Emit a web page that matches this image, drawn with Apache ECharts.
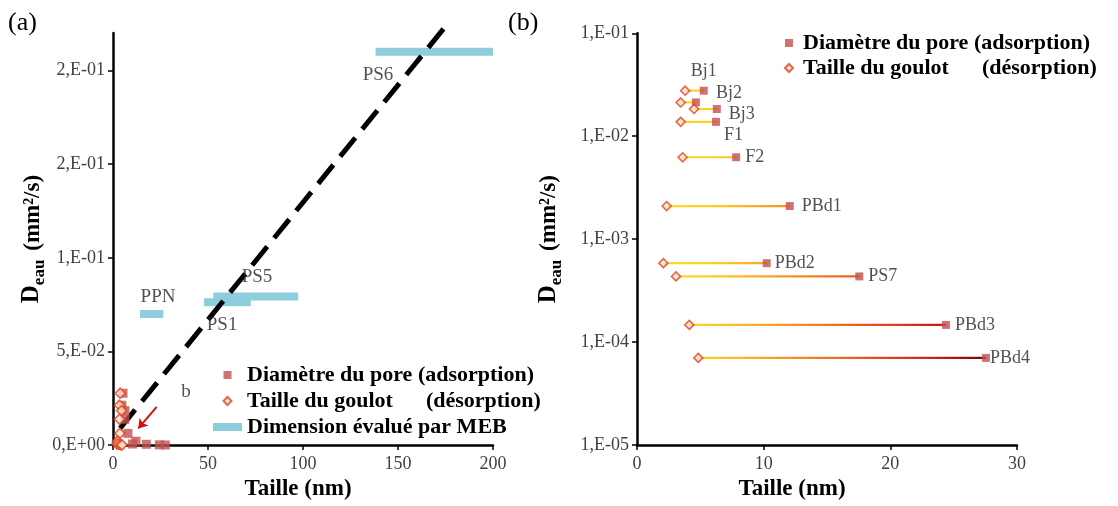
<!DOCTYPE html>
<html><head><meta charset="utf-8">
<script src="https://cdn.jsdelivr.net/npm/echarts@6/dist/echarts.min.js"></script>
<style>html,body{margin:0;padding:0;background:#fff}#c{width:1118px;height:506px}</style>
</head><body><div id="c"></div>
<script>
// ---- data ----
const samples = ['Bj1','Bj2','Bj3','F1','F2','PBd1','PBd2','PS7','PBd3','PBd4'];
const poreDiameter = [5.27,4.65,6.3,6.24,7.83,12.06,10.24,17.55,24.39,27.55];
const neckSize = [3.8,3.45,4.5,3.45,3.6,2.34,2.08,3.08,4.13,4.84];
const dWater = [0.0277,0.0213,0.0184,0.0138,0.00625,0.0021,0.000585,0.000435,0.000147,0.0000703];
const mebNames = ['PPN','PS1','PS5','PS6'];
const mebMin = [14.2,47.9,52.8,138.2];
const mebMax = [26.5,72.5,97.5,200];
const mebD = [0.070,0.0763,0.0793,0.210];
const trendX = [3.7,175.6];
const trendY = [0.0089,0.2243];
const arrowFrom = [23.0,0.0204];
const arrowTo = [13.3,0.0089];
const noteText = ['PPN','PS1','PS5','PS6','b'];
const noteX = [23.7,57.4,75.8,139.5,38.4];
const noteY = [0.0791,0.0639,0.0896,0.1978,0.0286];
const yValsA = [0,0.05,0.1,0.15,0.2];
const yTicksA = ['0,E+00','5,E-02','1,E-01','2,E-01','2,E-01'];
const yTicksB = ['1,E-05','1,E-04','1,E-03','1,E-02','1,E-01'];

// ---- styling ----
const SERIF = 'Liberation Serif';
const nPore = 'Diamètre du pore (adsorption)';
const nNeck = 'Taille du goulot      (désorption)';
const nMeb = 'Dimension évalué par MEB';
const SQ = 'path://M0,0L10,0L10,10L0,10Z';
const DI = 'path://M5,0L10,5L5,10L0,5Z';
const poreColor = '#C0504D';
const neckStyle = {color:'#FDE3CF', borderColor:'#E2401E', borderWidth:1.6};
const pal = [[0,[255,226,50]],[6,[255,208,30]],[10,[248,165,45]],[15,[240,118,38]],[20,[226,62,34]],[24,[200,24,24]],[28,[90,5,5]]];
function palAt(x){
  if (x<=pal[0][0]) return pal[0][1];
  for (let i=1;i<pal.length;i++){
    if (x<=pal[i][0]){
      const t=(x-pal[i-1][0])/(pal[i][0]-pal[i-1][0]);
      return pal[i-1][1].map((c,k)=>Math.round(c+(pal[i][1][k]-c)*t));
    }
  }
  return pal[pal.length-1][1];
}
function grad(a,b){
  const stops=[];
  for(let i=0;i<=6;i++){const t=i/6;const c=palAt(a+(b-a)*t);stops.push({offset:t,color:'rgb('+c.join(',')+')'});}
  return {type:'linear',x:0,y:0,x2:1,y2:0,colorStops:stops};
}
const labelCfg = {
  Bj1:{position:'top',distance:6},
  Bj2:{position:'right',distance:4,offset:[12,-9]},
  Bj3:{position:'right',distance:8,offset:[0,5]},
  F1:{position:'right',distance:4,offset:[0,13]},
  F2:{position:'right',distance:5},
  PBd1:{position:'right',distance:8},
  PBd2:{position:'right',distance:4},
  PS7:{position:'right',distance:5},
  PBd3:{position:'right',distance:5},
  PBd4:{position:'right',distance:0}
};
const tickLbl = {color:'#404040',fontFamily:SERIF,fontSize:18};
const axLine = {lineStyle:{color:'#000',width:2.5}};
const axTick = {show:true,inside:false,length:5,lineStyle:{color:'#000',width:1.5}};
const yName = '{d|D}{s|eau}{sp|  }{u|(mm²/s)}';
const yRich = {
  d:{fontFamily:SERIF,fontWeight:'bold',fontSize:25,color:'#000',lineHeight:28,verticalAlign:'bottom'},
  s:{fontFamily:SERIF,fontWeight:'bold',fontSize:17,color:'#000',lineHeight:28,verticalAlign:'bottom',padding:[0,0,-4,0]},
  sp:{fontSize:16,lineHeight:28},
  u:{fontFamily:SERIF,fontWeight:'bold',fontSize:23,color:'#000',lineHeight:28,verticalAlign:'bottom'}
};

const series = [];
// panel a
mebNames.forEach((n,i)=>{
  series.push({name:nMeb,type:'line',xAxisIndex:0,yAxisIndex:0,symbol:'none',clip:false,
    data:[[mebMin[i],mebD[i]],[mebMax[i],mebD[i]]],
    lineStyle:{color:'#8ECDDC',width:8,cap:'butt'},itemStyle:{color:'#8ECDDC'},z:2});
});
series.push({type:'line',xAxisIndex:0,yAxisIndex:0,symbol:'none',clip:false,silent:true,
  data:trendX.map((x,i)=>[x,trendY[i]]),
  lineStyle:{color:'#000',width:5,type:[24,11],cap:'butt'},z:3});
series.push({name:nPore,type:'scatter',xAxisIndex:0,yAxisIndex:0,symbol:SQ,symbolSize:9,
  data:poreDiameter.map((x,i)=>[x,dWater[i]]),itemStyle:{color:poreColor},z:4});
series.push({name:nNeck,type:'scatter',xAxisIndex:0,yAxisIndex:0,symbol:DI,symbolSize:10,
  data:neckSize.map((x,i)=>[x,dWater[i]]),itemStyle:neckStyle,z:5});
series.push({type:'lines',coordinateSystem:'cartesian2d',xAxisIndex:0,yAxisIndex:0,silent:true,
  symbol:['none','arrow'],symbolSize:9,
  lineStyle:{color:'#D01010',width:2,opacity:1},
  data:[{coords:[arrowFrom,arrowTo]}],z:6});
series.push({type:'scatter',xAxisIndex:0,yAxisIndex:0,symbolSize:0,silent:true,
  data:noteText.map((t,i)=>({value:[noteX[i],noteY[i]],name:t})),
  label:{show:true,position:'inside',formatter:p=>p.name,color:'#262626',fontFamily:SERIF,fontSize:19},z:7});
// panel b
samples.forEach((n,i)=>{
  series.push({type:'line',xAxisIndex:1,yAxisIndex:1,symbol:'none',silent:true,
    data:[[neckSize[i],dWater[i]],[poreDiameter[i],dWater[i]]],
    lineStyle:{color:grad(neckSize[i],poreDiameter[i]),width:2.2},z:2});
});
series.push({name:nPore,type:'scatter',xAxisIndex:1,yAxisIndex:1,symbol:SQ,symbolSize:8,
  data:poreDiameter.map((x,i)=>({value:[x,dWater[i]],name:samples[i],
    label:Object.assign({show:true},labelCfg[samples[i]])})),
  label:{formatter:p=>p.name,color:'#262626',fontFamily:SERIF,fontSize:18},
  itemStyle:{color:poreColor},z:4});
series.push({name:nNeck,type:'scatter',xAxisIndex:1,yAxisIndex:1,symbol:DI,symbolSize:9,
  data:neckSize.map((x,i)=>[x,dWater[i]]),itemStyle:neckStyle,z:5});

const legendText = {fontFamily:SERIF,fontWeight:'bold',fontSize:22,color:'#000',lineHeight:22};
const option = {
  backgroundColor:'#fff',
  animation:false,
  graphic:[
    {type:'text',left:8,top:10,style:{text:'(a)',font:'26px Liberation Serif',fill:'#000'}},
    {type:'text',left:508,top:10,style:{text:'(b)',font:'26px Liberation Serif',fill:'#000'}}
  ],
  legend:[
    {orient:'vertical',left:213,top:364,padding:0,itemGap:4,itemWidth:29,itemHeight:8,
     data:[{name:nPore,icon:SQ},{name:nNeck,icon:DI},{name:nMeb,icon:'rect'}],textStyle:legendText},
    {orient:'vertical',left:784,top:32,padding:0,itemGap:3,itemWidth:18,itemHeight:8,
     data:[{name:nPore,icon:SQ},{name:nNeck,icon:DI}],textStyle:legendText}
  ],
  grid:[
    {left:113,top:33,width:380,height:413.7},
    {left:637,top:33.3,width:380,height:413.4}
  ],
  xAxis:[
    {type:'value',gridIndex:0,min:0,max:200,interval:50,axisLine:axLine,axisTick:axTick,splitLine:{show:false},
     axisLabel:Object.assign({margin:10},tickLbl),
     name:'Taille (nm)',nameLocation:'middle',nameGap:30,
     nameTextStyle:{fontFamily:SERIF,fontWeight:'bold',fontSize:23,color:'#000',padding:[0,10,0,0]}},
    {type:'value',gridIndex:1,min:0,max:30,interval:10,axisLine:axLine,axisTick:axTick,splitLine:{show:false},
     axisLabel:Object.assign({margin:10},tickLbl),
     name:'Taille (nm)',nameLocation:'middle',nameGap:30,
     nameTextStyle:{fontFamily:SERIF,fontWeight:'bold',fontSize:23,color:'#000',padding:[0,70,0,0]}}
  ],
  yAxis:[
    {type:'value',gridIndex:0,min:0,max:0.22,interval:0.05,axisLine:axLine,
     axisTick:Object.assign({customValues:yValsA},axTick),splitLine:{show:false},
     axisLabel:Object.assign({margin:8,customValues:yValsA,
       formatter:v=>{const k=yValsA.findIndex(t=>Math.abs(t-v)<1e-9);return k<0?'':yTicksA[k];}},tickLbl),
     name:yName,nameLocation:'middle',nameRotate:90,nameGap:64,nameTextStyle:{rich:yRich}},
    {type:'log',logBase:10,gridIndex:1,min:1e-5,max:0.1,axisLine:axLine,axisTick:axTick,splitLine:{show:false},
     minorTick:{show:false},
     axisLabel:Object.assign({margin:8,formatter:v=>yTicksB[Math.round(Math.log10(v))+5]||''},tickLbl),
     name:yName,nameLocation:'middle',nameRotate:90,nameGap:76,nameTextStyle:{rich:yRich}}
  ],
  series:series
};
const chart = echarts.init(document.getElementById('c'),null,{renderer:'canvas'});
chart.setOption(option);
</script></body></html>
